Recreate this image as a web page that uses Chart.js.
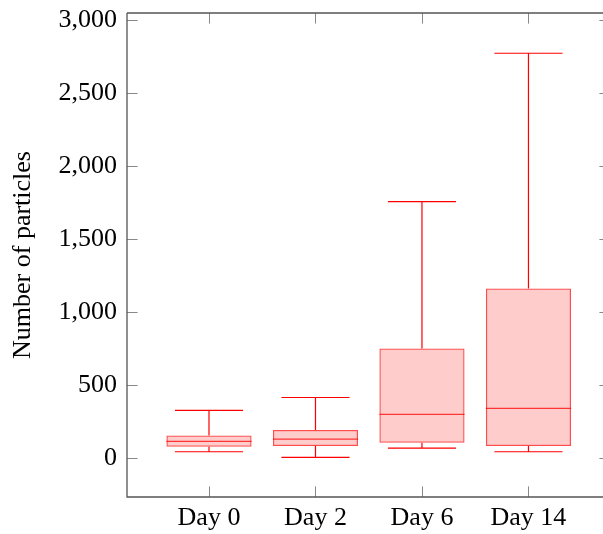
<!DOCTYPE html>
<html>
<head>
<meta charset="utf-8">
<script src="https://cdn.jsdelivr.net/npm/chart.js@4"></script>
<style>
  html, body { margin: 0; padding: 0; background: #fff; }
  #wrap { width: 603px; height: 534px; }
</style>
</head>
<body>
<div id="wrap"><canvas id="boxChart"></canvas></div>
<script>
// box plot values
var days = ['Day 0', 'Day 2', 'Day 6', 'Day 14'];
var positions = [1, 2, 3, 4];
var lowerWhisker = [43, 4, 68, 43];
var lowerQuartile = [77, 82, 105, 82];
var median = [114, 130, 299, 340];
var upperQuartile = [155, 192, 751, 1162];
var upperWhisker = [326, 415, 1757, 2774];
var yTicks = [0, 500, 1000, 1500, 2000, 2500, 3000];

var serif = "'Liberation Serif', 'Times New Roman', serif";
var red = '#ff0000';

// boxes are floating bars, the rest is drawn from the same scales
var boxData = positions.map(function (p, i) {
    return { x: p, y: [lowerQuartile[i], upperQuartile[i]] };
});

var whiskerPlugin = {
    id: 'whiskers',
    afterDatasetsDraw: function (chart) {
        var ctx = chart.ctx, xs = chart.scales.x, ys = chart.scales.y;
        ctx.save();
        ctx.lineWidth = 1.2;
        for (var i = 0; i < positions.length; i++) {
            var xc = xs.getPixelForValue(positions[i]);
            var capL = xs.getPixelForValue(positions[i] - 0.32);
            var capR = xs.getPixelForValue(positions[i] + 0.32);
            var boxL = xs.getPixelForValue(positions[i] - 0.4);
            var boxR = xs.getPixelForValue(positions[i] + 0.4);
            ctx.strokeStyle = red;
            ctx.beginPath();
            // upper whisker + cap
            ctx.moveTo(xc, ys.getPixelForValue(upperQuartile[i]));
            ctx.lineTo(xc, ys.getPixelForValue(upperWhisker[i]));
            ctx.moveTo(capL, ys.getPixelForValue(upperWhisker[i]));
            ctx.lineTo(capR, ys.getPixelForValue(upperWhisker[i]));
            // lower whisker + cap
            ctx.moveTo(xc, ys.getPixelForValue(lowerQuartile[i]));
            ctx.lineTo(xc, ys.getPixelForValue(lowerWhisker[i]));
            ctx.moveTo(capL, ys.getPixelForValue(lowerWhisker[i]));
            ctx.lineTo(capR, ys.getPixelForValue(lowerWhisker[i]));
            ctx.stroke();
            // median
            ctx.strokeStyle = 'rgba(255,0,0,0.75)';
            ctx.beginPath();
            ctx.moveTo(boxL, ys.getPixelForValue(median[i]));
            ctx.lineTo(boxR, ys.getPixelForValue(median[i]));
            ctx.stroke();
        }
        ctx.restore();
    },
    afterDraw: function (chart) {
        // pgfplots style frame with inward ticks
        var ctx = chart.ctx, a = chart.chartArea, xs = chart.scales.x, ys = chart.scales.y;
        var tl = 10.6;
        var rightAxis = 610;   // right frame sits just off the picture
        ctx.save();
        ctx.strokeStyle = '#888';
        ctx.lineWidth = 1;
        ctx.beginPath();
        yTicks.forEach(function (v) {
            var y = Math.round(ys.getPixelForValue(v)) + 0.5;
            ctx.moveTo(a.left, y); ctx.lineTo(a.left + tl, y);
            ctx.moveTo(rightAxis - tl, y); ctx.lineTo(rightAxis, y);
        });
        positions.forEach(function (p) {
            var x = Math.round(xs.getPixelForValue(p)) + 0.5;
            ctx.moveTo(x, a.bottom); ctx.lineTo(x, a.bottom - tl);
            ctx.moveTo(x, a.top); ctx.lineTo(x, a.top + tl);
        });
        ctx.stroke();
        ctx.strokeStyle = '#555';
        ctx.lineWidth = 1.3;
        ctx.beginPath();
        ctx.moveTo(a.left, a.top); ctx.lineTo(chart.width, a.top);
        ctx.moveTo(a.left, a.top); ctx.lineTo(a.left, a.bottom);
        ctx.lineTo(chart.width, a.bottom);
        ctx.stroke();
        ctx.restore();
    }
};

var boxChart = new Chart(document.getElementById('boxChart'), {
    type: 'bar',
    data: {
        datasets: [{
            label: 'Particles',
            data: boxData,
            backgroundColor: 'rgba(255,0,0,0.2)',
            borderColor: 'rgba(255,0,0,0.7)',
            borderWidth: 1.3,
            borderSkipped: false,
            barPercentage: 1.0,
            categoryPercentage: 0.8
        }]
    },
    options: {
        responsive: true,
        maintainAspectRatio: false,
        animation: false,
        layout: { padding: { top: 13, left: 0, right: 0, bottom: 0 } },
        plugins: { legend: { display: false }, tooltip: { enabled: false } },
        scales: {
            x: {
                type: 'linear',
                offset: false,
                min: 0.23,
                max: 4.70,
                grid: { display: false, drawTicks: false, offset: false },
                border: { display: false },
                afterBuildTicks: function (s) {
                    s.ticks = positions.map(function (p) { return { value: p }; });
                },
                ticks: {
                    padding: 6,
                    color: '#000',
                    maxRotation: 0,
                    font: { family: serif, size: 26 },
                    callback: function (v) { return days[positions.indexOf(v)]; }
                },
                afterFit: function (s) {
                    s.height = 37;
                    s.paddingLeft = 0; s.paddingRight = 0;
                }
            },
            y: {
                min: -267,
                max: 3050,
                grid: { display: false, drawTicks: false },
                border: { display: false },
                afterBuildTicks: function (s) {
                    s.ticks = yTicks.map(function (v) { return { value: v }; });
                },
                ticks: {
                    padding: 10,
                    color: '#000',
                    font: { family: serif, size: 26 },
                    callback: function (v) { return v.toLocaleString('en-US'); }
                },
                title: {
                    display: true,
                    text: 'Number of particles',
                    color: '#000',
                    padding: { top: 8, bottom: 0 },
                    font: { family: serif, size: 26 }
                },
                afterFit: function (s) {
                    s.width = 127;
                    s.paddingTop = 0; s.paddingBottom = 0;
                }
            }
        }
    },
    plugins: [whiskerPlugin]
});
</script>
</body>
</html>
